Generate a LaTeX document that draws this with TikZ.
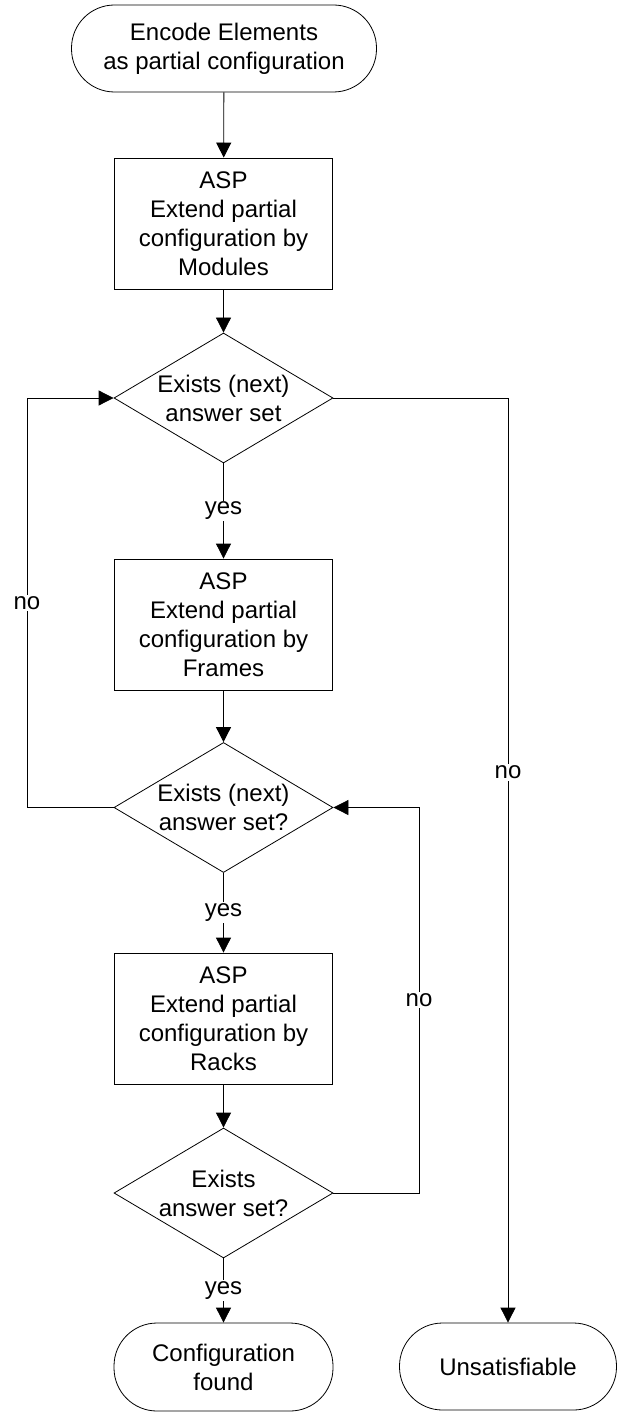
\documentclass[tikz,border=0pt]{standalone}
\usepackage{fontspec}
\setmainfont{Liberation Sans}
\usetikzlibrary{arrows.meta,shapes.geometric}
\begin{document}
\begin{tikzpicture}[x=1pt,y=-1pt,
  every node/.style={font=\fontsize{24}{29}\selectfont},
  term/.style={draw, line width=0.8pt, rounded corners=43pt, align=center, inner sep=0pt},
  proc/.style={draw, line width=0.8pt, align=center, inner sep=0pt, minimum width=218pt, minimum height=131pt},
  dec/.style={draw, line width=0.8pt, diamond, inner sep=0pt, minimum width=219pt, minimum height=130pt},
  conn/.style={line width=0.8pt, -{Triangle[length=15pt,width=15pt]}},
  lbl/.style={fill=white, inner sep=1.5pt}]
\useasboundingbox (0,0) rectangle (621,1412);
\node[term, minimum width=305pt, minimum height=87pt] (t) at (224,48.5) {Encode Elements\\as partial configuration};
\node[proc] (b1) at (223.5,223.5) {ASP\\Extend partial\\configuration by\\Modules};
\node[dec, label={[align=center]center:Exists (next)\\answer set}] (d1) at (223.5,398) {};
\node[proc] (b2) at (223.5,624.5) {ASP\\Extend partial\\configuration by\\Frames};
\node[dec, label={[align=center]center:Exists (next)\\answer set?}] (d2) at (223.5,807.5) {};
\node[proc] (b3) at (223.5,1018.5) {ASP\\Extend partial\\configuration by\\Racks};
\node[dec, label={[align=center]center:Exists\\answer set?}] (d3) at (223.5,1193) {};
\node[term, minimum width=219pt, minimum height=88pt] (cf) at (223.5,1367) {Configuration\\found};
\node[term, minimum width=217pt, minimum height=87pt] (u) at (508,1366.5) {Unsatisfiable};
\coordinate (L2) at (27,807.5);
\coordinate (L1) at (27,398);
\coordinate (R1) at (508,398);
\coordinate (M3) at (419,1193);
\coordinate (M2) at (419,807.5);
\draw[conn] (t) -- (b1);
\draw[conn] (b1) -- (d1);
\draw[conn] (d1) -- node[lbl]{yes} (b2);
\draw[conn] (b2) -- (d2);
\draw[conn] (d2) -- node[lbl]{yes} (b3);
\draw[conn] (b3) -- (d3);
\draw[conn] (d3) -- node[lbl]{yes} (cf);
\draw[conn] (d2.west) -- (L2) -- node[lbl]{no} (L1) -- (d1.west);
\draw[conn] (d1.east) -- (R1) -- node[lbl,pos=0.405]{no} (u.north);
\draw[conn] (d3.east) -- (M3) -- node[lbl]{no} (M2) -- (d2.east);
\end{tikzpicture}
\end{document}
